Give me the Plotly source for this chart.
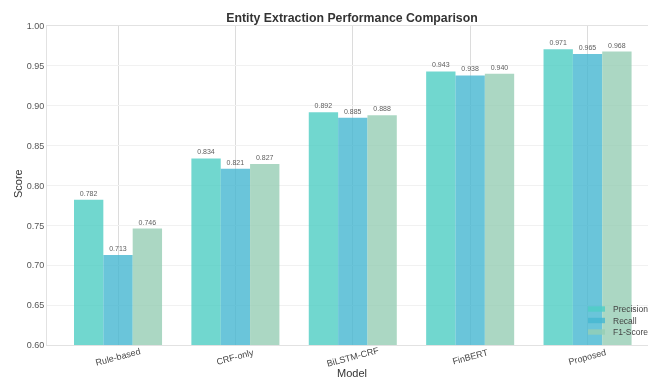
import plotly.graph_objects as go

models = ["Rule-based", "CRF-only", "BiLSTM-CRF", "FinBERT", "Proposed"]
precision = [0.782, 0.834, 0.892, 0.943, 0.971]
recall = [0.713, 0.821, 0.885, 0.938, 0.965]
f1_score = [0.746, 0.827, 0.888, 0.940, 0.968]
y_ticks = [0.60, 0.65, 0.70, 0.75, 0.80, 0.85, 0.90, 0.95, 1.00]

series = [
    ("Precision", precision, "#4ECDC4"),
    ("Recall", recall, "#45B7D1"),
    ("F1-Score", f1_score, "#96CEB4"),
]

fig = go.Figure()
for name, vals, color in series:
    fig.add_trace(go.Bar(
        x=models, y=vals, name=name,
        marker=dict(color=color, line=dict(width=0)),
        opacity=0.8,
        text=[f"{v:.3f}" for v in vals],
        textposition="outside",
        textfont=dict(size=7, color="#333333", family="Liberation Sans, Arial"),
        cliponaxis=False,
        showlegend=False,
    ))

W, H = 648, 379
L, T, B = 47, 26, 34
PW, PH = W - L, H - T - B


def px_x(px):
    return (px - L) / PW


def px_y(py):
    return (H - B - py) / PH


# category labels, centred under each group and tilted
tick_notes = [
    dict(text=m, x=m, y=px_y(357), xref="x", yref="paper",
         xanchor="center", yanchor="middle", textangle=-15, showarrow=False,
         font=dict(size=9, color="#444444"))
    for m in models
]

# compact legend in the lower-right corner of the axes
legend_shapes, legend_notes = [], []
row_y = [309, 320.5, 332]
for (name, _, color), ry in zip(series, row_y):
    legend_shapes.append(dict(
        type="rect", xref="paper", yref="paper",
        x0=px_x(588), x1=px_x(605), y0=px_y(ry + 2.7), y1=px_y(ry - 2.7),
        fillcolor=color, opacity=0.8, line=dict(width=0), layer="above",
    ))
    legend_notes.append(dict(
        text=name, x=px_x(611), y=px_y(ry), xref="paper", yref="paper",
        xanchor="left", yanchor="middle", showarrow=False,
        font=dict(size=8.5, color="#444444"),
    ))

fig.update_layout(
    width=W, height=H,
    margin=dict(l=L, r=0, t=T, b=B),
    paper_bgcolor="white", plot_bgcolor="white",
    barmode="group", bargap=0.25, bargroupgap=0,
    font=dict(family="Liberation Sans, Arial", color="#444444"),
    title=dict(
        text="<b>Entity Extraction Performance Comparison</b>",
        x=352 / W, xanchor="center", y=1 - 18 / H, yanchor="middle",
        font=dict(size=12.3, color="#333333"),
    ),
    showlegend=False,
    shapes=legend_shapes,
    xaxis=dict(
        range=[-0.605, 4.515],
        showticklabels=False,
        showgrid=True, gridcolor="#dcdcdc", gridwidth=1,
        showline=True, linecolor="#e2e2e2", linewidth=1, mirror=True,
        ticks="", ticklen=0,
    ),
    yaxis=dict(
        range=[0.60, 1.00], tickvals=y_ticks,
        ticktext=[f"{t:.2f}" for t in y_ticks],
        tickfont=dict(size=9, color="#555555"),
        showgrid=True, gridcolor="#f1f1f1", gridwidth=1,
        showline=True, linecolor="#e2e2e2", linewidth=1, mirror=True,
        zeroline=False, ticks="", ticklen=0,
    ),
    annotations=tick_notes + legend_notes + [
        dict(text="Score", x=px_x(18), y=px_y(184), xref="paper", yref="paper",
             xanchor="center", yanchor="middle", textangle=-90, showarrow=False,
             font=dict(size=11, color="#333333")),
        dict(text="Model", x=px_x(352), y=px_y(373), xref="paper", yref="paper",
             xanchor="center", yanchor="middle", showarrow=False,
             font=dict(size=11, color="#333333")),
    ],
)

fig.write_html("out.html")
